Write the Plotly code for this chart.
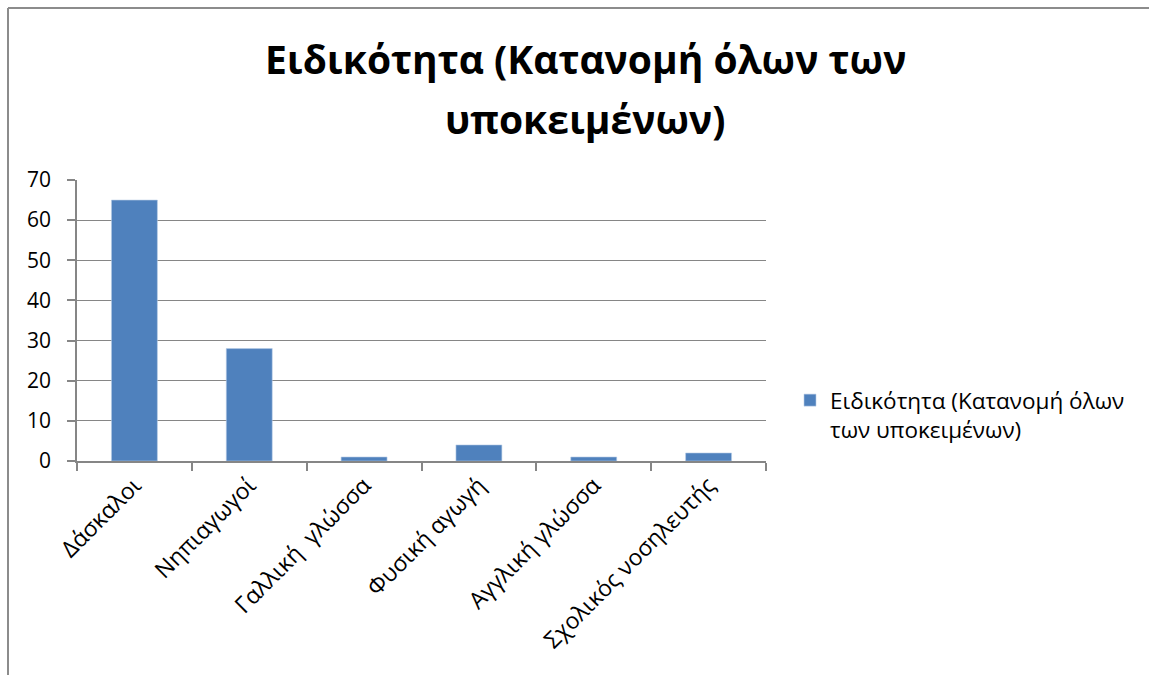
import plotly.graph_objects as go

# Specialty distribution across all subjects
categories = ["Δάσκαλοι", "Νηπιαγωγοί", "Γαλλική  γλώσσα", "Φυσική αγωγή",
              "Αγγλική γλώσσα", "Σχολικός νοσηλευτής"]
counts = [65, 28, 1, 4, 1, 2]
series_name = "Ειδικότητα (Κατανομή όλων<br>των υποκειμένων)"
title_lines = ["Ειδικότητα (Κατανομή όλων των", "υποκειμένων)"]
y_ticks = [0, 10, 20, 30, 40, 50, 60, 70]

FONT = "Open Sans"
AXIS_GRAY = "#868686"
BAR_BLUE = "#4F81BD"

W, H = 1149, 675
L, R, T, B = 77, 383, 180, 214
pw, ph = W - L - R, H - T - B


def px_x(x):
    return (x - L) / pw


def px_y(y):
    return (H - B - y) / ph


fig = go.Figure()
fig.add_trace(go.Bar(
    x=categories, y=counts, name=series_name,
    marker=dict(color=BAR_BLUE, line=dict(color="#B9CDE5", width=0.6)),
    showlegend=True,
))

fig.update_layout(
    width=W, height=H,
    margin=dict(l=L, r=R, t=T, b=B, autoexpand=False),
    paper_bgcolor="white", plot_bgcolor="white",
    bargap=0.6,
    font=dict(family=FONT, color="black"),
    showlegend=True,
    legend=dict(x=px_x(790), xanchor="left", y=px_y(379), yanchor="top",
                font=dict(size=22.5, family=FONT), valign="top",
                itemwidth=30, bgcolor="rgba(0,0,0,0)"),
    xaxis=dict(
        showline=True, linecolor=AXIS_GRAY, linewidth=1.5,
        ticks="outside", ticklen=8, tickcolor=AXIS_GRAY, tickwidth=1.5,
        tickson="boundaries", tickangle=-45,
        tickfont=dict(size=23, family=FONT),
        showgrid=False,
    ),
    yaxis=dict(
        range=[0, 70], tickvals=y_ticks, showline=True, linecolor=AXIS_GRAY,
        linewidth=1.5, ticks="outside", ticklen=8, tickcolor=AXIS_GRAY,
        tickwidth=1.5, showgrid=True, gridcolor=AXIS_GRAY, gridwidth=1.2,
        tickfont=dict(size=21, family=FONT), zeroline=False,
        ticklabelstandoff=12,
    ),
)

# Two-line bold title
for text, ypix in zip(title_lines, [59, 119]):
    fig.add_annotation(
        text=f"<b>{text}</b>", xref="paper", yref="paper",
        x=px_x(585), y=px_y(ypix), xanchor="center", yanchor="middle",
        showarrow=False, font=dict(size=39, family=FONT, color="black"),
    )

# Chart frame (top and left edges)
fig.add_shape(type="line", xref="paper", yref="paper",
              x0=px_x(8), x1=px_x(W + 5), y0=px_y(8), y1=px_y(8),
              line=dict(color="#8C8C8C", width=2))
fig.add_shape(type="line", xref="paper", yref="paper",
              x0=px_x(8), x1=px_x(8), y0=px_y(8), y1=px_y(H + 5),
              line=dict(color="#8C8C8C", width=2))

fig.write_html("out.html")
